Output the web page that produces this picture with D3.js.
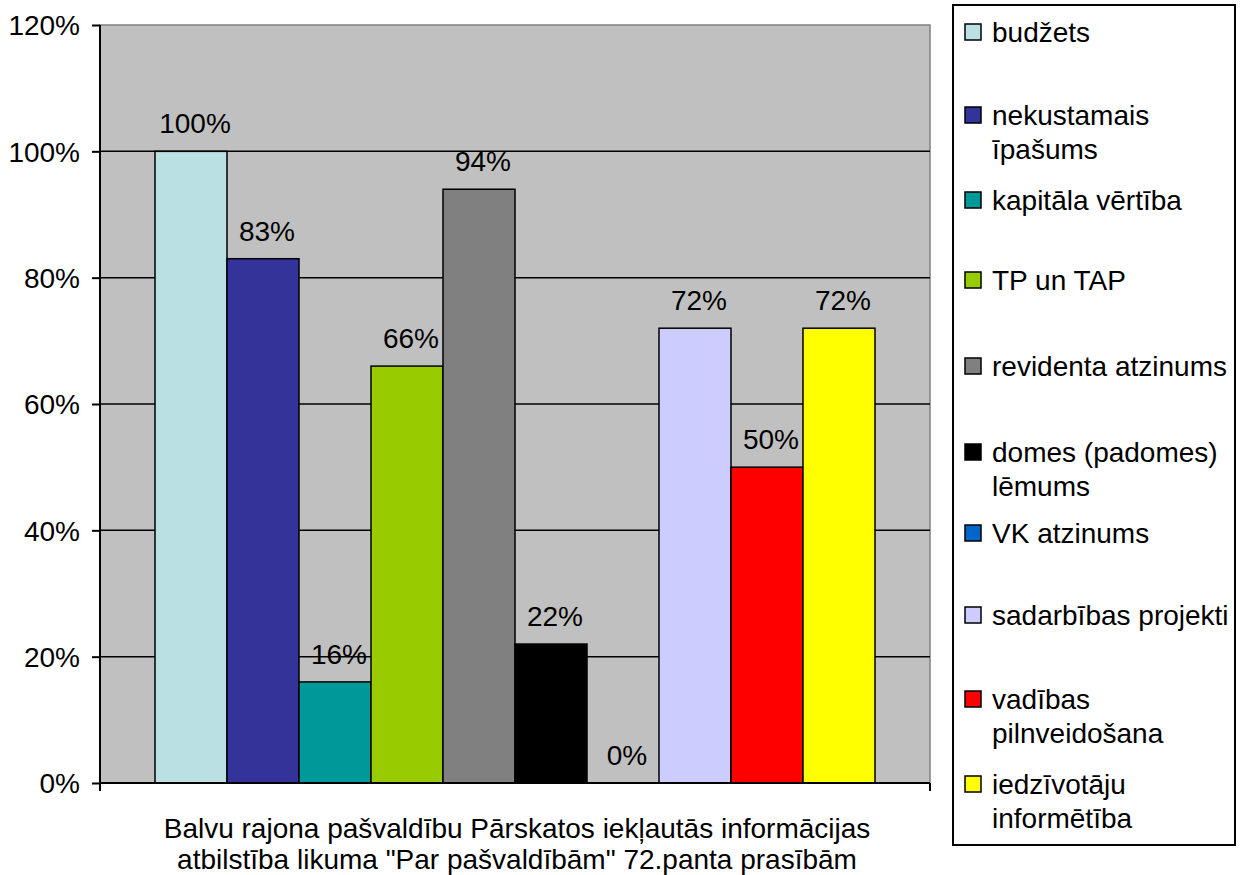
<!DOCTYPE html>
<html>
<head>
<meta charset="utf-8">
<script src="https://cdn.jsdelivr.net/npm/d3@7"></script>
<style>
  body { margin: 0; background: #fff; }
  svg { font-family: "Liberation Sans", Arial, sans-serif; }
</style>
</head>
<body>
<div class="canvas-bar"></div>
<script>
const seriesNames = [
  'budžets', 'nekustamais īpašums', 'kapitāla vērtība', 'TP un TAP', 'revidenta atzinums',
  'domes (padomes) lēmums', 'VK atzinums', 'sadarbības projekti', 'vadības pilnveidošana',
  'iedzīvotāju informētība'
];
const legendLines = [
  ['budžets'], ['nekustamais', 'īpašums'], ['kapitāla vērtība'], ['TP un TAP'], ['revidenta atzinums'],
  ['domes (padomes)', 'lēmums'], ['VK atzinums'], ['sadarbības projekti'], ['vadības', 'pilnveidošana'],
  ['iedzīvotāju', 'informētība']
];
const values = [1.0, 0.83, 0.16, 0.66, 0.94, 0.22, 0, 0.72, 0.5, 0.72];
const colors = ['#BBE0E3', '#333399', '#009999', '#99CC00', '#808080', '#000000', '#0066CC', '#CCCCFF', '#FF0000', '#FFFF00'];
const yTicks = [0, 0.2, 0.4, 0.6, 0.8, 1.0, 1.2];
const titleLines = [
  'Balvu rajona pašvaldību Pārskatos iekļautās informācijas',
  'atbilstība likuma "Par pašvaldībām" 72.panta prasībām'
];

const margin = { top: 25, left: 100 };
const plotW = 830;
const plotH = 758;
const fontSize = '28px';

const svg = d3.select('.canvas-bar').append('svg').attr('width', 1244).attr('height', 875);

const graph = svg.append('g').attr('transform', `translate(${margin.left}, ${margin.top})`);

const x = d3.scaleBand().domain(d3.range(values.length)).range([0, plotW]).paddingInner(0).paddingOuter(0.764);
const y = d3.scaleLinear().domain([0, 1.2]).range([plotH, 0]);

// plot background
graph.append('rect').attr('width', plotW).attr('height', plotH).attr('fill', '#C0C0C0')
  .attr('stroke', '#808080').attr('stroke-width', 1.5);

// gridlines
graph.selectAll('.grid').data(yTicks.slice(1, -1)).enter().append('line')
  .attr('x1', 0).attr('x2', plotW)
  .attr('y1', d => y(d)).attr('y2', d => y(d))
  .attr('stroke', '#000').attr('stroke-width', 1.5);

// bars
graph.selectAll('.bar').data(values).enter().append('rect')
  .attr('x', (d, i) => x(i))
  .attr('y', d => y(d))
  .attr('width', x.bandwidth())
  .attr('height', d => plotH - y(d))
  .attr('fill', (d, i) => colors[i])
  .attr('stroke', '#000').attr('stroke-width', 1.5);

// value labels
graph.selectAll('.lbl').data(values).enter().append('text')
  .attr('x', (d, i) => x(i) + x.bandwidth() / 2 + 4)
  .attr('y', d => y(d) - 18)
  .attr('text-anchor', 'middle')
  .style('font-size', fontSize)
  .text(d => `${Math.round(d * 100)}%`);

// y axis
const yAxis = d3.axisLeft(y).tickValues(yTicks).tickFormat(d => `${Math.round(d * 100)}%`).tickSize(8).tickPadding(12);
const yAxisGroup = graph.append('g').call(yAxis);
yAxisGroup.attr('font-family', null).attr('font-size', null);
yAxisGroup.select('.domain').attr('stroke-width', 2).attr('d', `M0,0V${plotH}`);
yAxisGroup.selectAll('line').attr('stroke-width', 2);
yAxisGroup.selectAll('text').style('font-size', fontSize).attr('fill', '#000').attr('dy', '0.35em');

// x axis line
const xAxisGroup = graph.append('g').attr('transform', `translate(0, ${plotH})`);
xAxisGroup.append('line').attr('x1', 0).attr('x2', plotW).attr('stroke', '#000').attr('stroke-width', 2);
xAxisGroup.selectAll('.xt').data([0, plotW]).enter().append('line')
  .attr('x1', d => d).attr('x2', d => d).attr('y1', 0).attr('y2', 8)
  .attr('stroke', '#000').attr('stroke-width', 2);

// category title
svg.append('g').selectAll('text').data(titleLines).enter().append('text')
  .attr('x', margin.left + plotW / 2 + 2)
  .attr('y', (d, i) => 838 + i * 31)
  .attr('text-anchor', 'middle')
  .style('font-size', fontSize)
  .text(d => d);

// legend
const legend = svg.append('g');
legend.append('rect').attr('x', 953).attr('y', 5).attr('width', 282).attr('height', 840)
  .attr('fill', '#fff').attr('stroke', '#000').attr('stroke-width', 2);

const legendY = [32, 115, 200, 280, 366, 452, 533, 615, 699, 784];
const items = legend.selectAll('.item').data(seriesNames).enter().append('g')
  .attr('transform', (d, i) => `translate(965, ${legendY[i]})`);
items.append('rect').attr('x', 0).attr('y', -8).attr('width', 16).attr('height', 16)
  .attr('fill', (d, i) => colors[i]).attr('stroke', '#000').attr('stroke-width', 1.5);
items.append('text')
  .style('font-size', fontSize)
  .selectAll('tspan').data((d, i) => legendLines[i]).enter().append('tspan')
  .attr('x', 27).attr('y', (d, j) => 10 + j * 34)
  .text(d => d);
</script>
</body>
</html>
